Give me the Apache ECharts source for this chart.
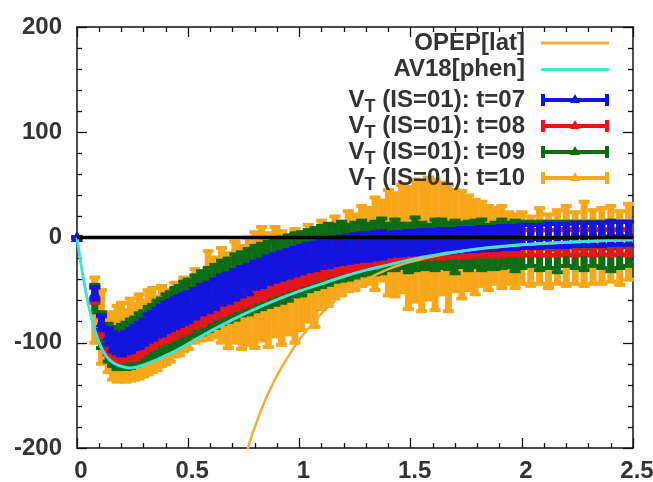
<!DOCTYPE html>
<html>
<head>
<meta charset="utf-8">
<script src="https://cdn.jsdelivr.net/npm/echarts@6/dist/echarts.min.js"></script>
<style>
html,body{margin:0;padding:0;background:#fff;}
#chart{width:653px;height:482px;}
</style>
</head>
<body>
<div id="chart"></div>
<script>
// ---- data ----
const xTicks = [0, 0.5, 1, 1.5, 2, 2.5];
const yTicks = [-200, -100, 0, 100, 200];

const seriesNames = ['OPEP[lat]', 'AV18[phen]', 'V_T (IS=01): t=07', 'V_T (IS=01): t=08', 'V_T (IS=01): t=09', 'V_T (IS=01): t=10'];

// lattice distances r [fm]
const r = [0, 0.08, 0.11, 0.14, 0.16, 0.18, 0.2, 0.22, 0.24, 0.26, 0.28, 0.3, 0.32, 0.34, 0.36, 0.38, 0.4, 0.42, 0.44, 0.46, 0.48, 0.5, 0.53, 0.56, 0.59, 0.62, 0.65, 0.68, 0.71, 0.74, 0.77, 0.8, 0.83, 0.86, 0.89, 0.92, 0.95, 0.98, 1.01, 1.04, 1.07, 1.1, 1.13, 1.16, 1.19, 1.22, 1.25, 1.28, 1.31, 1.34, 1.37, 1.4, 1.43, 1.46, 1.49, 1.52, 1.55, 1.58, 1.61, 1.64, 1.67, 1.7, 1.73, 1.76, 1.79, 1.82, 1.85, 1.88, 1.91, 1.94, 1.97, 2.0, 2.04, 2.08, 2.12, 2.16, 2.2, 2.24, 2.28, 2.32, 2.36, 2.4, 2.44, 2.48];

const t07 = [0, -53, -81, -94, -99, -101, -102, -100, -98, -95, -93, -90, -86, -84, -81, -79, -76, -74, -72, -70, -68, -66, -63, -59, -57, -54, -50, -48, -45, -42, -40, -36, -34, -31, -29, -27, -25, -23, -21, -19, -18, -16, -15, -13, -12, -11, -10, -9, -9, -8, -7, -7, -6, -6, -5, -5, -4, -4, -4, -3, -3, -3, -2, -2, -2, -1, -1, -1, 0, 0, 0, 1, 1, 1, 2, 2, 2, 3, 3, 3, 3, 4, 4, 4];
const t07err = [0, 6, 7, 8, 9, 9, 10, 10, 11, 11, 12, 12, 13, 13, 13, 14, 14, 14, 14, 14, 14, 14, 14, 14, 14, 14, 14, 14, 14, 14, 14, 13, 13, 13, 13, 13, 13, 13, 13, 13, 13, 13, 13, 13, 13, 13, 13, 13, 13, 13, 13, 11, 11, 11, 11, 11, 11, 11, 11, 11, 11, 11, 11, 11, 11, 11, 11, 11, 11, 11, 11, 11, 11, 11, 11, 11, 11, 11, 11, 11, 11, 11, 11, 11];

const t08 = [0, -55, -85, -100, -104, -106, -106, -105, -104, -102, -99, -96, -93, -91, -88, -86, -83, -81, -79, -77, -75, -73, -70, -67, -64, -61, -58, -56, -53, -50, -48, -45, -43, -40, -38, -36, -34, -32, -30, -28, -26, -24, -22, -20, -19, -18, -17, -15, -14, -13, -12, -12, -11, -10, -10, -9, -9, -8, -8, -8, -7, -7, -7, -7, -6, -6, -6, -6, -6, -5, -5, -5, -5, -5, -5, -5, -4, -5, -4, -5, -4, -5, -4, -5];
const t08err = [0, 7, 10, 11, 12, 12, 12, 12, 12, 14, 14, 14, 14, 14, 14, 14, 16, 16, 16, 16, 16, 16, 16, 16, 16, 16, 16, 16, 16, 16, 16, 16, 16, 16, 16, 16, 15, 15, 15, 15, 15, 15, 15, 15, 15, 15, 15, 15, 15, 15, 15, 12, 12, 12, 12, 12, 12, 12, 12, 12, 12, 12, 12, 12, 12, 12, 12, 12, 12, 12, 12, 12, 12, 12, 12, 12, 12, 12, 12, 12, 12, 12, 12, 12];

const t09 = [0, -58, -88, -100, -104, -105, -104, -103, -101, -99, -96, -94, -91, -89, -86, -84, -81, -79, -76, -74, -71, -69, -65, -62, -59, -56, -52, -50, -47, -44, -42, -39, -37, -35, -33, -31, -29, -26, -25, -22, -20, -18, -16, -15, -13, -14, -12, -10, -11, -10, -8, -9, -7, -8, -10, -6, -8, -9, -7, -6, -8, -9, -7, -8, -6, -7, -9, -8, -6, -7, -8, -7, -6, -8, -7, -9, -6, -7, -8, -6, -7, -8, -7, -6];
const t09err = [0, 13, 17, 18, 18, 20, 21, 22, 23, 23, 24, 24, 25, 25, 26, 26, 27, 27, 28, 28, 29, 29, 29, 30, 30, 30, 30, 30, 31, 30, 31, 31, 31, 31, 31, 31, 31, 30, 30, 29, 29, 29, 29, 27, 28, 26, 26, 26, 24, 25, 26, 22, 24, 21, 23, 25, 22, 21, 24, 23, 22, 25, 21, 23, 22, 24, 21, 22, 23, 21, 24, 22, 21, 23, 22, 24, 21, 22, 23, 21, 22, 24, 22, 21];

const t10 = [0, -69, -85, -101, -103, -101, -99, -103, -97, -99, -94, -96, -90, -88, -91, -84, -86, -84, -78, -80, -73, -73, -65, -66, -55, -57, -55, -60, -52, -57, -51, -50, -44, -50, -42, -48, -45, -46, -44, -34, -40, -26, -27, -19, -20, -13, -14, -8, -8, -6, -3, -5, -7, -1, -10, -3, -9, -1, -7, -1, -10, -3, -7, -5, -9, -6, -10, -8, -9, -10, -13, -10, -13, -8, -13, -9, -8, -10, -6, -9, -8, -6, -10, -4];
const t10err = [0, 31, 35, 27, 32, 36, 37, 34, 39, 36, 40, 36, 40, 40, 35, 38, 34, 34, 35, 32, 35, 33, 35, 32, 42, 38, 45, 45, 48, 49, 51, 55, 54, 54, 52, 54, 47, 54, 44, 46, 45, 42, 38, 39, 35, 38, 36, 38, 36, 44, 38, 50, 49, 51, 58, 58, 61, 58, 62, 53, 60, 48, 51, 45, 45, 40, 40, 36, 39, 34, 35, 34, 33, 36, 35, 35, 38, 34, 40, 35, 36, 36, 35, 36];

const opepR = [0.76, 0.78, 0.8, 0.83, 0.86, 0.9, 0.95, 1.0, 1.05, 1.1, 1.15, 1.2, 1.3, 1.4, 1.5, 1.6, 1.7, 1.8, 1.9, 2.0, 2.2, 2.4, 2.5];
const opepV = [-207, -192, -180, -163, -148, -131, -113, -97, -84, -72, -62, -53, -40, -30, -23, -18, -14, -11, -9, -7, -4.5, -3, -2.5];

const av18R = [0, 0.02, 0.04, 0.06, 0.08, 0.1, 0.12, 0.15, 0.18, 0.21, 0.24, 0.27, 0.3, 0.35, 0.4, 0.45, 0.5, 0.6, 0.7, 0.8, 0.9, 1.0, 1.1, 1.2, 1.3, 1.4, 1.5, 1.6, 1.8, 2.0, 2.2, 2.5];
const av18V = [0, -28, -52, -72, -88, -100, -109, -117, -121, -123, -124, -123, -121, -117, -112, -107, -101, -89, -78, -68, -59, -51, -44, -37, -31, -26, -21, -17, -11, -7, -4.5, -2];

// ---- styles ----
const C_OPEP = '#f0ad3c', C_AV18 = '#46e0d6';
const C_T07 = '#1414e0', C_T08 = '#e3161b', C_T09 = '#0c6c14', C_T10 = '#f6a71a';
const FONT = '"Liberation Sans", Arial, Helvetica, sans-serif';
const TXT = '#333333';

function errRender(params, api) {
  const x = api.value(0), y = api.value(1), e = api.value(2);
  const pc = api.coord([x, y]);
  const pt = api.coord([x, y + e]);
  const pb = api.coord([x, y - e]);
  const color = api.visual('color');
  const cw = 5.5, lw = 7;
  return {
    type: 'group',
    children: [
      {type: 'line', shape: {x1: pc[0], y1: pt[1], x2: pc[0], y2: pb[1]}, style: {stroke: color, lineWidth: lw}},
      {type: 'line', shape: {x1: pc[0] - cw, y1: pt[1], x2: pc[0] + cw, y2: pt[1]}, style: {stroke: color, lineWidth: 4}},
      {type: 'line', shape: {x1: pc[0] - cw, y1: pb[1], x2: pc[0] + cw, y2: pb[1]}, style: {stroke: color, lineWidth: 4}},
      {type: 'polygon', shape: {points: [[pc[0], pc[1] - 6.5], [pc[0] + 6, pc[1] + 4.5], [pc[0] - 6, pc[1] + 4.5]]}, style: {fill: color}}
    ]
  };
}
function errData(vals, errs) { return r.map((x, i) => [x, vals[i], errs[i]]); }
function pairs(xs, ys) { return xs.map((x, i) => [x, ys[i]]); }

const LINE_ICON = 'path://M0,0h68v3h-68z';
const ERR_ICON = 'path://M0,4h68v4h-68z M0,0h4v12h-4z M64,0h4v12h-4z M34,0L39,9L29,9z';

const rowCenters = [47, 73.5, 100, 126, 152, 178];
const legends = seriesNames.map((name, i) => ({
  show: true,
  selectedMode: false,
  orient: 'vertical',
  right: 44,
  top: rowCenters[i] - 16,
  padding: 0,
  align: 'right',
  itemWidth: 68,
  itemHeight: i < 2 ? 3 : 12,
  data: [{name: name, icon: i < 2 ? LINE_ICON : ERR_ICON}],
  formatter: function (n) {
    if (n.indexOf('V_T') === 0) return '{n|V}{s|T}{e|' + n.slice(3) + '}';
    return '{e|' + n + '}';
  },
  textStyle: {
    fontFamily: FONT, fontSize: 24, fontWeight: 'bold', color: TXT,
    rich: {
      n: {fontFamily: FONT, fontSize: 24, fontWeight: 'bold', color: TXT, lineHeight: 32},
      s: {fontFamily: FONT, fontSize: 18, fontWeight: 'bold', color: TXT, lineHeight: 32, padding: [14, 0, 0, 0]},
      e: {fontFamily: FONT, fontSize: 24, fontWeight: 'bold', color: TXT, lineHeight: 32, padding: [0, 11, 0, 0]}
    }
  }
}));

const axisCommon = {
  type: 'value',
  axisLine: {show: true, onZero: false, lineStyle: {color: '#111', width: 1.5}},
  axisTick: {show: true, inside: true, length: 10, lineStyle: {color: '#111', width: 1.3}},
  minorTick: {show: true, splitNumber: 5, length: 5, lineStyle: {color: '#111', width: 1.3}},
  splitLine: {show: false},
  minorSplitLine: {show: false}
};

const option = {
  animation: false,
  backgroundColor: '#ffffff',
  grid: {left: 77, right: 20, top: 27, bottom: 34, outerBoundsMode: 'none', containLabel: false},
  legend: legends,
  xAxis: [
    Object.assign({}, axisCommon, {
      position: 'bottom', min: xTicks[0], max: xTicks[xTicks.length - 1], interval: 0.5,
      axisLabel: {show: true, margin: 11, fontFamily: FONT, fontSize: 24, fontWeight: 'bold', color: TXT, padding: [0, 0, 0, 8],
        formatter: v => String(v)}
    }),
    Object.assign({}, axisCommon, {
      position: 'top', min: xTicks[0], max: xTicks[xTicks.length - 1], interval: 0.5,
      axisLabel: {show: false}
    })
  ],
  yAxis: [
    Object.assign({}, axisCommon, {
      position: 'left', min: yTicks[0], max: yTicks[yTicks.length - 1], interval: 100,
      axisLabel: {show: true, margin: 15, fontFamily: FONT, fontSize: 24, fontWeight: 'bold', color: TXT}
    }),
    Object.assign({}, axisCommon, {
      position: 'right', min: yTicks[0], max: yTicks[yTicks.length - 1], interval: 100,
      axisLabel: {show: false}
    })
  ],
  series: [
    {name: seriesNames[5], type: 'custom', renderItem: errRender, data: errData(t10, t10err),
      itemStyle: {color: C_T10}, encode: {x: 0, y: 1}, clip: false},
    {name: seriesNames[4], type: 'custom', renderItem: errRender, data: errData(t09, t09err),
      itemStyle: {color: C_T09}, encode: {x: 0, y: 1}, clip: false},
    {name: seriesNames[3], type: 'custom', renderItem: errRender, data: errData(t08, t08err),
      itemStyle: {color: C_T08}, encode: {x: 0, y: 1}, clip: false},
    {name: seriesNames[0], type: 'line', data: pairs(opepR, opepV), smooth: 0.3, showSymbol: false, symbol: 'none',
      color: C_OPEP, lineStyle: {color: C_OPEP, width: 2.5}, clip: true},
    {name: seriesNames[1], type: 'line', data: pairs(av18R, av18V), smooth: 0.3, showSymbol: false, symbol: 'none',
      color: C_AV18, lineStyle: {color: C_AV18, width: 3}, clip: true},
    {name: 'zero', type: 'line', data: [[0, 0], [2.5, 0]], showSymbol: false, symbol: 'none',
      lineStyle: {color: '#000', width: 3.5}, silent: true},
    {name: seriesNames[2], type: 'custom', renderItem: errRender, data: errData(t07, t07err),
      itemStyle: {color: C_T07}, encode: {x: 0, y: 1}, clip: false}
  ]
};

const chart = echarts.init(document.getElementById('chart'), null, {renderer: 'canvas'});
chart.setOption(option);
</script>
</body>
</html>
